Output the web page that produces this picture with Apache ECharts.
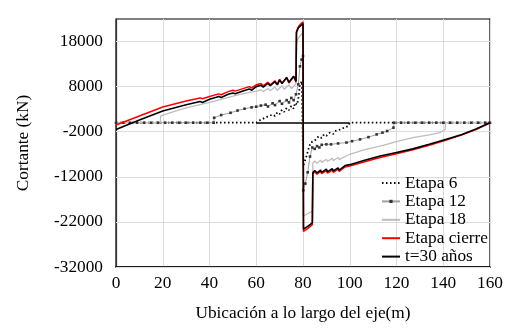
<!DOCTYPE html>
<html>
<head>
<meta charset="utf-8">
<script src="https://cdn.jsdelivr.net/npm/echarts@6/dist/echarts.min.js"></script>
<style>
  html, body { margin: 0; padding: 0; background: #fff; }
  #chart { width: 513px; height: 332px; }
</style>
</head>
<body>
<div id="chart"></div>
<script>
// Shear force along the deck axis, [position (m), shear (kN)]
const seriesNames = ['Etapa 6', 'Etapa 12', 'Etapa 18', 'Etapa cierre', 't=30 años'];

const etapa6 = [
  [0,0],[60,0],[61,400],[63,900],[65,1400],[67,1800],[68,1500],[69,2300],[70,1900],[71,2900],
  [72,2400],[73,3300],[74,2800],[75,3700],[76,3100],[76.6,4400],[77.5,4000],[78.2,6000],
  [78.7,8500],[79.5,9200],[80,9300],[80.1,-9600],[80.8,-8500],[81.5,-7400],[82.3,-5900],
  [83.3,-4400],[85,-4000],[86.7,-3000],[88,-3400],[89,-2600],[90,-2900],[91.5,-2200],
  [93,-2500],[94,-1800],[96,-1500],[98,-1000],[99.4,-750],[100,0],[160,0]
];

const etapa12 = [
  [0,0],[3,0],[6,0],[9,0],[12,0],[15,0],[18,0],[21,0],[24,0],[27,0],[30,0],[33,0],[36,0],[39,0],
  [41.8,0],[42,1100],[45,1700],[49,2200],[52,2700],[55,3100],[58,3400],[60,3550],[62,3800],
  [64,4000],[65,3600],[67,4300],[68,3900],[70,4800],[71,4200],[73,5000],[74,4500],[75,5500],
  [76,5000],[77,6300],[78,8500],[78.7,12500],[79.4,14000],[80,14800],[80.1,-15000],[81,-13500],
  [82,-11000],[83,-7500],[84,-5500],[85,-5800],[86,-5200],[87,-5500],[88,-4900],[90,-4800],
  [92,-4800],[95,-4600],[98.6,-4400],[101,-4100],[104.4,-3700],[108,-3200],[111.5,-2600],
  [114,-2200],[116,-1850],[118.7,-1100],[119,0],[122,0],[125,0],[128,0],[131,0],[134,0],
  [137,0],[140,0],[143,0],[146,0],[149,0],[152,0],[155,0],[158,0],[160,0]
];

const etapa18 = [
  [0,0],[19,0],[19.1,1500],[25,2500],[30,3300],[35,3900],[40,4500],[45,5200],[50,5900],
  [55,6500],[60,7000],[62,7300],[63,6900],[65,7600],[66,7100],[68,7900],[69,7200],[71,8200],
  [72,7400],[74,8400],[75,7600],[77,8600],[77.3,17800],[78,18800],[79,19400],[80,20000],
  [80.2,-20700],[82,-20200],[84,-19600],[84.2,-9000],[85,-8500],[86,-9000],[87.5,-8300],
  [88,-8800],[90,-8100],[90.5,-8600],[92.5,-7900],[93,-8400],[95,-7700],[95.5,-8200],
  [98,-7500],[100,-7000],[106,-6000],[113,-5200],[120,-4200],[127,-3300],[134,-2700],
  [138.6,-2200],[140.8,-1500],[141,0],[160,0]
];

const etapaCierre = [
  [0,-500],[10,1500],[20,3500],[30,4800],[36,5500],[37,5300],[40,5800],[44,6400],[45,6200],
  [48,6900],[50,7200],[51,7000],[54,7500],[57,8000],[58,7700],[60,8400],[62,8700],[63,8200],
  [65,9000],[66,8400],[68,9300],[69,8500],[70,9600],[71,8700],[73,10000],[74,8800],[76,10300],
  [77,9000],[77.2,20300],[78,21300],[79,21900],[80,22400],[80.2,-24100],[82,-23500],
  [84,-22600],[84.2,-11400],[85,-10900],[86,-11400],[87.5,-10800],[88,-11300],[90,-10600],
  [90.5,-11200],[92.5,-10500],[93,-11000],[95,-10300],[95.5,-10800],[98,-9800],[100,-9600],
  [106,-8700],[113,-7700],[120,-6900],[127,-6000],[134,-5000],[141,-3900],[148,-2700],
  [154,-1500],[160,0]
];

const t30 = [
  [0,-1500],[10,600],[20,2600],[30,4000],[36,4700],[37,4500],[40,5200],[44,5800],[45,5600],
  [48,6300],[50,6600],[51,6400],[54,7000],[57,7500],[58,7200],[60,8000],[62,8300],[63,7900],
  [65,8700],[66,8200],[68,9100],[69,8400],[70,9500],[71,8700],[73,10000],[74,9000],[76,10300],
  [77,9200],[77.2,20000],[78,21000],[79,21500],[80,22000],[80.2,-23600],[82,-23000],
  [84,-22200],[84.2,-11100],[85,-10600],[86,-11100],[87.5,-10500],[88,-11000],[90,-10300],
  [90.5,-10900],[92.5,-10200],[93,-10700],[95,-10000],[95.5,-10500],[98,-9500],[100,-9300],
  [106,-8400],[113,-7400],[120,-6600],[127,-5800],[134,-4800],[141,-3700],[148,-2600],
  [154,-1400],[160,0]
];

// Zero reference segment under the first stage, and axis ticks
const zeroSegment = [[60, 0], [100, 0]];
const yTicks = [-32000, -22000, -12000, -2000, 8000, 18000];
const xTicks = [0, 20, 40, 60, 80, 100, 120, 140, 160];

const FONT = "'Liberation Serif', 'Times New Roman', serif";
const FS = 17.3;
const chart = echarts.init(document.getElementById('chart'), null, { renderer: 'canvas' });

const txt = (size) => ({ fontFamily: FONT, fontSize: size, color: '#000' });
// Legend entries: plain-line series get an invisible marker in their key
const lineOnly = { itemStyle: { opacity: 0 } };

chart.setOption({
  animation: false,
  backgroundColor: '#fff',
  textStyle: { fontFamily: FONT, color: '#000' },
  grid: {
    left: 116, right: 23, top: 19, bottom: 65,
    show: true, borderColor: '#000', borderWidth: 1.2
  },
  legend: {
    orient: 'vertical',
    left: 376, top: 169.5,
    itemWidth: 18, itemHeight: 4, itemGap: 1.4,
    data: [
      Object.assign({ name: seriesNames[0] }, lineOnly),
      { name: seriesNames[1] },
      Object.assign({ name: seriesNames[2] }, lineOnly),
      Object.assign({ name: seriesNames[3] }, lineOnly),
      Object.assign({ name: seriesNames[4] }, lineOnly)
    ],
    textStyle: txt(FS)
  },
  xAxis: {
    type: 'value', min: xTicks[0], max: xTicks[xTicks.length - 1], interval: 20,
    name: 'Ubicación a lo largo del eje(m)', nameLocation: 'middle', nameGap: 38,
    nameTextStyle: txt(FS),
    axisLine: { onZero: false, lineStyle: { color: '#000', width: 1.5 } },
    axisTick: { show: false },
    axisLabel: Object.assign(txt(FS), { margin: 8, formatter: v => String(v) }),
    splitLine: { show: true, lineStyle: { color: '#dcdcdc', width: 1 } }
  },
  yAxis: {
    type: 'value', min: -32000, max: 23000,
    name: 'Cortante (kN)', nameLocation: 'middle', nameGap: 84, nameRotate: 90,
    nameTextStyle: txt(FS),
    axisLine: { onZero: false, lineStyle: { color: '#333', width: 1.2 } },
    axisTick: { show: false, customValues: yTicks },
    axisLabel: Object.assign(txt(FS), { margin: 13, customValues: yTicks, formatter: v => String(v) }),
    splitLine: { show: false }
  },
  series: [
    {
      name: 'Etapa 6', type: 'line', data: etapa6, symbol: 'none', z: 3,
      lineStyle: { color: '#000', width: 1.8, type: [1.5, 2.5] },
      itemStyle: { color: '#000' },
      markLine: {
        silent: true, symbol: 'none', z: 2, label: { show: false },
        lineStyle: { color: '#000', width: 1.5, type: 'solid' },
        data: [[{ coord: zeroSegment[0] }, { coord: zeroSegment[1] }]]
      }
    },
    {
      name: 'Etapa 12', type: 'line', data: etapa12, symbol: 'rect', symbolSize: 2.6, z: 3,
      lineStyle: { color: '#a0a0a0', width: 1 },
      itemStyle: { color: '#333' }
    },
    {
      name: 'Etapa 18', type: 'line', data: etapa18, symbol: 'none', z: 3,
      lineStyle: { color: '#bdbdbd', width: 1.3 },
      itemStyle: { color: '#bdbdbd' }
    },
    {
      name: 'Etapa cierre', type: 'line', data: etapaCierre, symbol: 'none', z: 4,
      lineStyle: { color: '#ff0000', width: 1.5 },
      itemStyle: { color: '#ff0000' }
    },
    {
      name: 't=30 años', type: 'line', data: t30, symbol: 'none', z: 5,
      lineStyle: { color: '#000', width: 1.6 },
      itemStyle: { color: '#000' }
    },
    {
      // horizontal grid lines at the labelled shear values
      name: 'grid-y', type: 'line', data: [], silent: true, z: 1,
      markLine: {
        silent: true, symbol: 'none', z: 1, label: { show: false },
        lineStyle: { color: '#dcdcdc', width: 1, type: 'solid' },
        data: yTicks.map(v => ({ yAxis: v }))
      }
    }
  ]
});
</script>
</body>
</html>
